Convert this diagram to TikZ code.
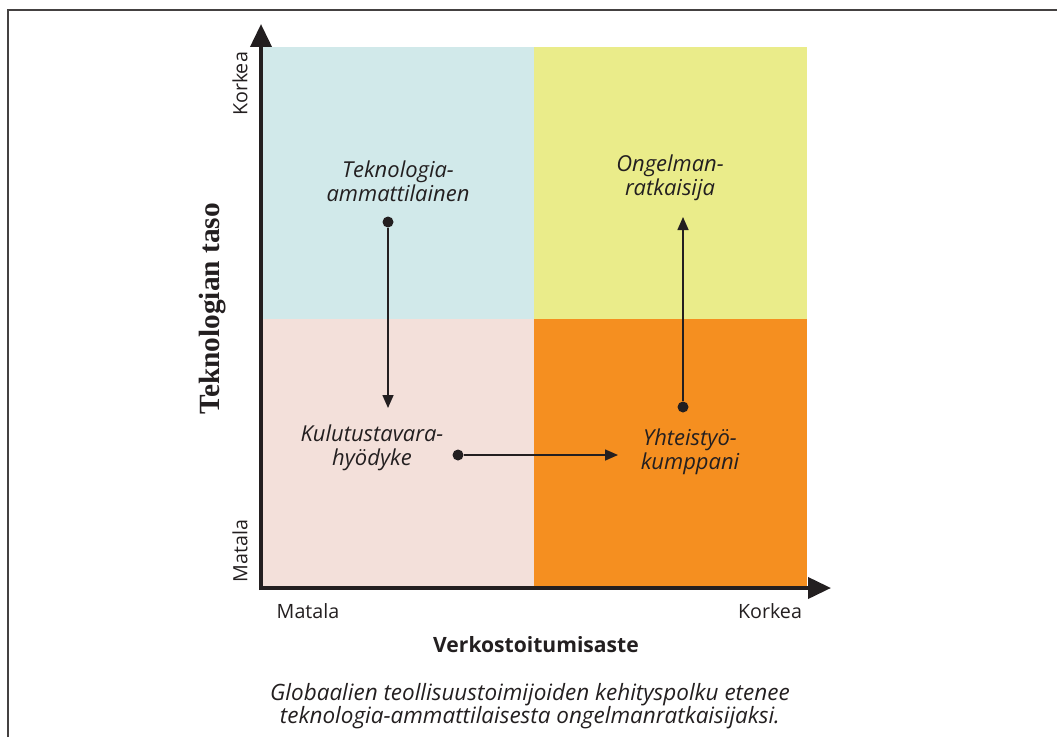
\documentclass[tikz,border=0pt]{standalone}
\usepackage{fontspec}
\setmainfont{Open Sans}
\newfontfamily\titlefont{Liberation Serif}
\usepackage{tikz}
\usetikzlibrary{arrows.meta,positioning}
\definecolor{inkcol}{HTML}{231F20}
\definecolor{tealq}{HTML}{D1E9EA}
\definecolor{yellowq}{HTML}{EAEC8A}
\definecolor{pinkq}{HTML}{F3E0DA}
\definecolor{orangeq}{HTML}{F58F20}

\begin{document}
\begin{tikzpicture}[x=0.02cm, y=-0.02cm,
    axis/.style={line width=2.2pt, draw=inkcol, -{Triangle[length=4.6mm, width=4.2mm]}},
    flow/.style={line width=0.9pt, draw=inkcol, -{Triangle[length=2.6mm, width=2.2mm]}},
    dot/.style={circle, fill=inkcol, inner sep=0pt, minimum size=2.2mm},
    role/.style={font=\itshape\fontsize{12.5}{13.4}\selectfont, text=inkcol, align=center},
    level/.style={font=\fontsize{11.2}{12}\selectfont, text=inkcol},
    axtitle/.style={font=\bfseries\fontsize{12}{14}\selectfont, text=inkcol}
]
\useasboundingbox (0,0) rectangle (1057,737);

% frame
\draw[line width=1.6pt, draw=inkcol!85] (8,737) -- (8,10) -- (1057,10);

% quadrants
\fill[tealq]   (262,47)  rectangle (534,319);
\fill[yellowq] (534,47)  rectangle (807,319);
\fill[pinkq]   (262,319) rectangle (534,588);
\fill[orangeq] (534,319) rectangle (807,588);

% axes
\coordinate (origin) at (261,588);
\coordinate (ytip) at (261,24);
\coordinate (xtip) at (831,588);
\draw[axis] ([yshift=-0.04cm]origin) -- (ytip);
\draw[axis] ([xshift=-0.04cm]origin) -- (xtip);

\node[level, rotate=90] (yhigh) at (240,84) {Korkea};
\node[level, rotate=90] (ylow) at (240,551) {Matala};
\node[level] (xlow) at (308,611) {Matala};
\node[level] (xhigh) at (770,611) {Korkea};
\node[rotate=90, font=\titlefont\bfseries\fontsize{16.7}{18}\selectfont, text=inkcol] (ytitle) at (213,309) {Teknologian taso};
\node[axtitle] (xtitle) at (536,645) {Verkostoitumisaste};

% roles
\node[role] (tech) at (398,181) {Teknologia-\\ammattilainen};
\node[role] (cons) at (372,448) {Kulutustavara-\\hyödyke};
\node[role] (part) at (690,452) {Yhteistyö-\\kumppani};
\node[role] (solv) at (670,178) {Ongelman-\\ratkaisija};

% path
\node[dot] (d1) at (388,222) {};
\coordinate (e1) at (388,408);
\node[dot] (d2) at (458,455) {};
\coordinate (e2) at (618,455);
\node[dot] (d3) at (683,407) {};
\coordinate (e3) at (683,217);
\draw[flow] (d1) -- (e1);
\draw[flow] (d2) -- (e2);
\draw[flow] (d3) -- (e3);

% caption
\node[role, font=\itshape\fontsize{12.8}{13.4}\selectfont] (caption) at (530,706) {Globaalien teollisuustoimijoiden kehityspolku etenee\\teknologia-ammattilaisesta ongelmanratkaisijaksi.};
\end{tikzpicture}
\end{document}
